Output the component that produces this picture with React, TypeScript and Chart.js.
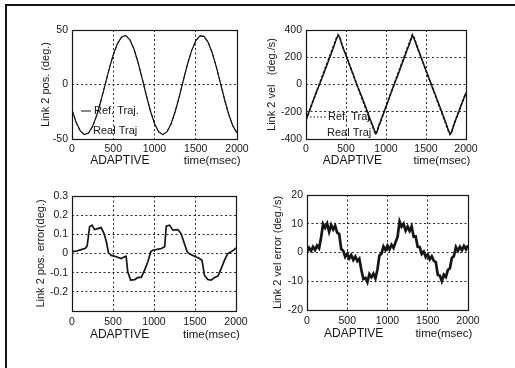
import React, { useEffect, useRef } from "react";
import { Chart, registerables } from "chart.js";

Chart.register(...registerables);

const FONT = '"Liberation Sans", Arial, Helvetica, sans-serif';
const INK = "#151515";

// Shared time axis (msec)
const timeTicks = [0, 500, 1000, 1500, 2000];

// Link 2 position (deg.)
const posTime = [
  0, 50, 100, 150, 200, 250, 300, 350, 400, 450, 500, 550, 600, 650, 700, 750, 800, 850, 900, 950,
  1000, 1050, 1100, 1150, 1200, 1250, 1300, 1350, 1400, 1450, 1500, 1550, 1600, 1650, 1700, 1750,
  1800, 1850, 1900, 1950, 2000,
];
const refPos = [
  -23.3, -34.7, -42.5, -45.9, -44.5, -38.4, -28.2, -15.1, -0.5, 14.1, 27.2, 37.4, 43.5, 44.9, 41.2,
  32.8, 20.4, 5.7, -9.7, -24.1, -35.8, -43.4, -46.0, -43.5, -36.2, -25.0, -11.1, 4.0, 18.7, 31.1,
  40.1, 44.6, 44.1, 38.7, 28.9, 15.9, 1.0, -14.0, -27.5, -38.0, -44.4,
];
const realPos = [
  -23.3, -34.7, -42.5, -45.9, -44.6, -38.5, -28.3, -15.2, -0.6, 14.1, 27.2, 37.4, 43.5, 44.9, 41.3,
  32.9, 20.5, 5.8, -9.6, -24.1, -35.8, -43.4, -46.0, -43.5, -36.3, -25.1, -11.2, 3.9, 18.7, 31.1,
  40.1, 44.6, 44.1, 38.8, 29.0, 16.0, 1.0, -14.0, -27.5, -38.0, -44.4,
];

// Link 2 velocity (deg./s)
const velTime = [
  0, 50, 100, 150, 200, 250, 300, 350, 380, 400, 420, 450, 500, 550, 600, 650, 700, 750, 800, 850,
  870, 890, 900, 950, 1000, 1050, 1100, 1150, 1200, 1250, 1300, 1330, 1350, 1400, 1450, 1500, 1550,
  1600, 1650, 1700, 1750, 1780, 1800, 1820, 1850, 1900, 1950, 2000,
];
const refVel = [
  -260, -181, -102, -24, 55, 134, 212, 291, 340, 365, 350, 291, 213, 134, 55, -24, -102, -181, -260,
  -335, -366, -345, -322, -241, -161, -80, 0, 80, 161, 241, 318, 366, 345, 260, 181, 102, 24, -55,
  -134, -213, -291, -340, -366, -350, -291, -213, -134, -60,
];
const realVel = [
  -260, -182, -103, -26, 45, 124, 202, 282, 333, 359, 348, 290, 213, 135, 56, -22, -93, -171, -251,
  -326, -360, -343, -321, -243, -163, -83, -4, 69, 151, 232, 309, 361, 339, 258, 181, 103, 25, -52,
  -126, -205, -285, -335, -364, -349, -293, -215, -136, -63,
];

// Link 2 position error (deg.)
const posErrTime = [
  0, 50, 110, 160, 185, 215, 245, 275, 315, 355, 390, 420, 445, 480, 540, 600, 640, 660, 680, 715,
  765, 805, 845, 885, 925, 960, 985, 1025, 1090, 1130, 1150, 1190, 1230, 1290, 1330, 1370, 1405,
  1435, 1495, 1555, 1585, 1615, 1655, 1695, 1740, 1780, 1820, 1860, 1900, 1940, 1980, 2000,
];
const posErr = [
  0.01, 0.012, 0.02, 0.026, 0.04, 0.14, 0.148, 0.125, 0.13, 0.135, 0.105, 0.06, 0.003, -0.01,
  -0.017, -0.026, -0.017, -0.015, -0.096, -0.139, -0.136, -0.125, -0.125, -0.087, -0.043, 0.009,
  0.017, 0.02, 0.026, 0.035, 0.143, 0.148, 0.122, 0.125, 0.104, 0.052, 0.009, -0.003, -0.014,
  -0.026, -0.035, -0.113, -0.136, -0.139, -0.125, -0.118, -0.078, -0.035, 0, 0.009, 0.02, 0.03,
];

// Link 2 velocity error (deg./s)
const velErrTime = [
  0, 25, 50, 75, 100, 125, 150, 175, 200, 225, 250, 275, 300, 325, 350, 375, 400, 425, 450, 475,
  500, 525, 550, 575, 600, 625, 650, 675, 700, 725, 750, 775, 800, 825, 850, 875, 900, 925, 950,
  975, 1000, 1025, 1050, 1075, 1100, 1125, 1150, 1175, 1200, 1225, 1250, 1275, 1300, 1325, 1350,
  1375, 1400, 1425, 1450, 1475, 1500, 1525, 1550, 1575, 1600, 1625, 1650, 1675, 1700, 1725, 1750,
  1775, 1800, 1825, 1850, 1875, 1900, 1925, 1950, 1975, 2000,
];
const velErr = [
  0.3, 1.6, 0.6, 2.0, 0.9, 2.4, 1.5, 5.2, 9.9, 8.6, 10.1, 7.2, 9.6, 8.0, 9.3, 6.9, 6.4, 1.2, 0.6,
  -1.5, -0.4, -2.1, -0.9, -2.6, -1.4, -3.0, -2.2, -6.0, -9.2, -8.8, -10.3, -7.5, -8.6, -7.4, -9.0,
  -5.9, -1.0, -0.4, 2.1, 0.8, 2.4, 1.1, 2.7, 1.6, 3.6, 5.4, 10.8, 9.0, 10.0, 7.6, 9.0, 7.5, 9.1,
  5.5, 5.6, 2.0, 1.9, -0.5, 0.3, -1.6, -0.6, -2.4, -1.3, -2.9, -3.3, -7.8, -8.0, -10.0, -7.7, -8.5,
  -6.1, -5.5, -1.9, -1.2, 1.9, 0.6, 2.0, 0.8, 2.3, 1.1, 2.5,
];

// Y-axis ticks and their labels
const posTicks = [-50, 0, 50];
const posTickLabels = ["-50", "0", "50"];
const velTicks = [-400, -200, 0, 200, 400];
const velTickLabels = ["-400", "-200", "0", "200", "400"];
const posErrTicks = [-0.3, -0.2, -0.1, 0, 0.1, 0.2, 0.3];
const posErrTickLabels = ["", "-0.2", "-0.1", "0", "0.1", "0.2", "0.3"];
const velErrTicks = [-20, -10, 0, 10, 20];
const velErrTickLabels = ["-20", "-10", "0", "10", "20"];

type Series = { t: number[]; v: number[]; width: number; dash?: number[] };
type LegendItem = { text: string; dx: number; dy: number; sample?: "solid" | "dotted"; sx0?: number; sx1?: number };
type Panel = {
  left: number;
  top: number;
  width: number;
  height: number;
  padding: { left: number; top: number; right: number; bottom: number };
  yWidth: number;
  xHeight: number;
  yMin: number;
  yMax: number;
  yTicks: number[];
  yLabels: string[];
  yTitle: string;
  series: Series[];
  legend: LegendItem[];
  captionDy: number;
  tickPad: number;
};

// Plot frame, under-axis captions and the in-plot legend text
const panelDecor = {
  id: "panelDecor",
  afterDraw(chart: any, _args: any, opts: any) {
    const { ctx, chartArea: a } = chart;
    ctx.save();
    ctx.strokeStyle = INK;
    ctx.lineWidth = 1.2;
    ctx.setLineDash([]);
    ctx.strokeRect(Math.round(a.left) + 0.5, Math.round(a.top) + 0.5, Math.round(a.right - a.left), Math.round(a.bottom - a.top));

    const w = a.right - a.left;
    ctx.fillStyle = INK;
    ctx.textBaseline = "middle";
    ctx.textAlign = "center";
    ctx.font = `12px ${FONT}`;
    ctx.fillText("ADAPTIVE", a.left + w * 0.29, a.bottom + opts.captionDy);
    ctx.font = `11.5px ${FONT}`;
    ctx.fillText("time(msec)", a.left + w * 0.85, a.bottom + opts.captionDy);

    ctx.textAlign = "left";
    ctx.font = `11px ${FONT}`;
    for (const item of opts.legend as LegendItem[]) {
      const y = a.top + item.dy;
      if (item.sample) {
        ctx.beginPath();
        ctx.lineWidth = 1;
        ctx.setLineDash(item.sample === "dotted" ? [1.5, 2] : []);
        ctx.moveTo(a.left + (item.sx0 ?? 0), y);
        ctx.lineTo(a.left + (item.sx1 ?? 0), y);
        ctx.stroke();
        ctx.setLineDash([]);
      }
      ctx.fillText(item.text, a.left + item.dx, y);
    }
    ctx.restore();
  },
};

function buildConfig(p: Panel): any {
  const tickFont = { family: FONT, size: 10.5 };
  const grid = { color: "#2a2a2a", lineWidth: 1, drawTicks: false };
  const border = { display: false, dash: [2, 2.5] };
  return {
    type: "line",
    data: {
      datasets: p.series.map((s) => ({
        data: s.t.map((t, i) => ({ x: t, y: s.v[i] })),
        borderColor: INK,
        borderWidth: s.width,
        borderDash: s.dash ?? [],
        pointRadius: 0,
        tension: 0,
        fill: false,
      })),
    },
    options: {
      responsive: false,
      animation: false,
      devicePixelRatio: 1,
      layout: { padding: p.padding },
      plugins: {
        legend: { display: false },
        tooltip: { enabled: false },
        panelDecor: { legend: p.legend, captionDy: p.captionDy },
      },
      scales: {
        x: {
          type: "linear",
          min: 0,
          max: 2000,
          afterBuildTicks: (scale: any) => {
            scale.ticks = timeTicks.map((v) => ({ value: v }));
          },
          afterFit: (scale: any) => {
            scale.height = p.xHeight;
          },
          ticks: {
            font: tickFont,
            color: INK,
            padding: p.tickPad,
            maxRotation: 0,
            autoSkip: false,
            callback: (v: number) => String(v),
          },
          grid,
          border,
        },
        y: {
          type: "linear",
          min: p.yMin,
          max: p.yMax,
          afterBuildTicks: (scale: any) => {
            scale.ticks = p.yTicks.map((v) => ({ value: v }));
          },
          afterFit: (scale: any) => {
            scale.width = p.yWidth;
          },
          ticks: {
            font: tickFont,
            color: INK,
            padding: 4,
            autoSkip: false,
            callback: (_v: number, i: number) => p.yLabels[i],
          },
          title: {
            display: true,
            text: p.yTitle,
            color: INK,
            font: { family: FONT, size: 11 },
            padding: { top: 0, bottom: 0 },
          },
          grid,
          border,
        },
      },
    },
    plugins: [panelDecor],
  };
}

const panels: Panel[] = [
  {
    left: 0, top: 0, width: 255, height: 172,
    padding: { left: 39, top: 30, right: 18, bottom: 0 },
    yWidth: 33, xHeight: 33,
    yMin: -50, yMax: 50, yTicks: posTicks, yLabels: posTickLabels,
    yTitle: "Link 2 pos. (deg.)",
    series: [
      { t: posTime, v: refPos, width: 1.2 },
      { t: posTime, v: realPos, width: 1, dash: [4, 2] },
    ],
    legend: [
      { text: "Ref. Traj.", dx: 22, dy: 81, sample: "solid", sx0: 9, sx1: 19 },
      { text: "Real Traj", dx: 21, dy: 101 },
    ],
    captionDy: 22, tickPad: 4,
  },
  {
    left: 255, top: 0, width: 260, height: 172,
    padding: { left: 10, top: 30, right: 49, bottom: 0 },
    yWidth: 41, xHeight: 33,
    yMin: -400, yMax: 400, yTicks: velTicks, yLabels: velTickLabels,
    yTitle: "Link 2 vel   (deg./s)",
    series: [
      { t: velTime, v: refVel, width: 1.6, dash: [3, 1.5] },
      { t: velTime, v: realVel, width: 1.4 },
    ],
    legend: [
      { text: "Ref. Traj", dx: 22, dy: 87, sample: "dotted", sx0: 4, sx1: 20 },
      { text: "Real Traj", dx: 21, dy: 103 },
    ],
    captionDy: 22, tickPad: 4,
  },
  {
    left: 0, top: 180, width: 255, height: 188,
    padding: { left: 34, top: 16, right: 19, bottom: 0 },
    yWidth: 38, xHeight: 57,
    yMin: -0.3, yMax: 0.3, yTicks: posErrTicks, yLabels: posErrTickLabels,
    yTitle: "Link 2 pos. error(deg.)",
    series: [{ t: posErrTime, v: posErr, width: 1.7 }],
    legend: [],
    captionDy: 24, tickPad: 5,
  },
  {
    left: 255, top: 180, width: 260, height: 188,
    padding: { left: 16, top: 15, right: 47, bottom: 0 },
    yWidth: 36, xHeight: 58,
    yMin: -20, yMax: 20, yTicks: velErrTicks, yLabels: velErrTickLabels,
    yTitle: "Link 2 vel error (deg./s)",
    series: [{ t: velErrTime, v: velErr, width: 2.7 }],
    legend: [],
    captionDy: 24, tickPad: 5,
  },
];

function PanelChart({ p }: { p: Panel }) {
  const ref = useRef<HTMLCanvasElement | null>(null);
  useEffect(() => {
    if (!ref.current) return;
    const chart = new Chart(ref.current, buildConfig(p));
    return () => chart.destroy();
  }, [p]);
  return (
    <canvas
      ref={ref}
      width={p.width}
      height={p.height}
      style={{ position: "absolute", left: p.left, top: p.top, width: p.width, height: p.height }}
    />
  );
}

export default function App() {
  useEffect(() => {
    document.body.style.margin = "0";
    document.body.style.background = "#fff";
  }, []);
  return (
    <div style={{ position: "absolute", left: 0, top: 0, width: 515, height: 368, background: "#fff", overflow: "hidden" }}>
      <div
        style={{
          position: "absolute",
          left: 5,
          top: 4,
          width: 520,
          height: 380,
          borderTop: `2px solid ${INK}`,
          borderLeft: `2px solid ${INK}`,
        }}
      />
      {panels.map((p, i) => (
        <PanelChart key={i} p={p} />
      ))}
    </div>
  );
}
